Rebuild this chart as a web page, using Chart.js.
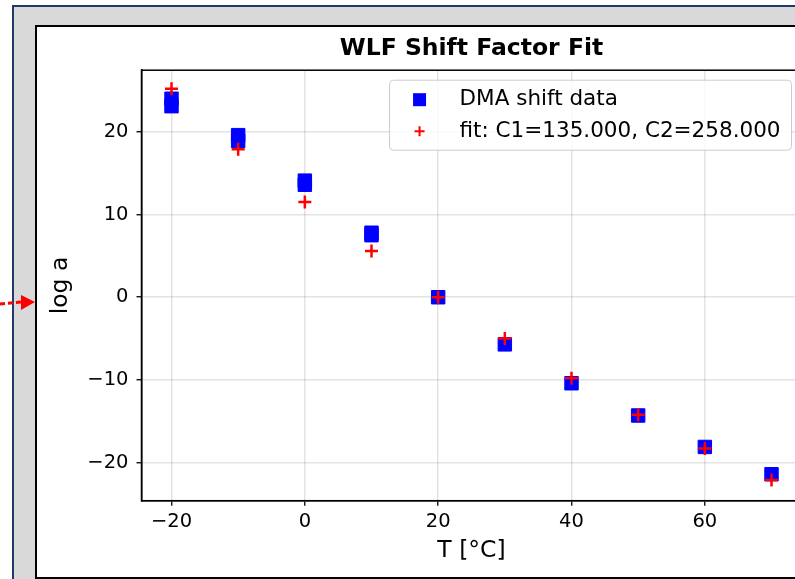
<!DOCTYPE html>
<html>
<head>
<meta charset="utf-8">
<title>WLF Shift Factor Fit</title>
<script src="https://cdn.jsdelivr.net/npm/chart.js"></script>
<style>
  html, body { margin: 0; padding: 0; width: 795px; height: 579px; overflow: hidden; background: #fff; }
  #frame { position: absolute; left: 12px; top: 5px; width: 820px; height: 600px; background: #d9d9d9;
           border-left: 2px solid #203a6b; border-top: 2px solid #203a6b; }
  #panel { position: absolute; left: 35px; top: 25px; width: 900px; height: 550px; background: #fff;
           border: 2px solid #000; overflow: hidden; }
  #wrap { position: absolute; left: 0; top: 0; width: 869px; height: 550px; }
  #arrow { position: absolute; left: 0; top: 290px; z-index: 5; }
</style>
</head>
<body>
<div id="frame"></div>
<div id="panel"><div id="wrap"><canvas id="wlf"></canvas></div></div>
<svg id="arrow" width="40" height="30">
  <line x1="0" y1="14" x2="22" y2="12" stroke="#ff0000" stroke-width="3" stroke-dasharray="5,3"/>
  <polygon points="21,5 35,12 21,20" fill="#ff0000"/>
</svg>
<script>
// measured shift factors (two DMA runs at the low temperatures)
var tempDma = [-20, -20, -10, -10, 0, 0, 10, 10, 20, 30, 40, 50, 60, 70];
var logaDma = [24.0, 23.1, 19.6, 18.9, 14.1, 13.6, 7.8, 7.5, 0.0, -5.7, -10.4, -14.3, -18.1, -21.4];

// WLF curve evaluated at each test temperature
var tempFit = [-20, -10, 0, 10, 20, 30, 40, 50, 60, 70];
var logaFit = [25.2, 17.9, 11.5, 5.6, 0.0, -5.0, -9.8, -14.2, -18.3, -22.1];

var xTicks = [-20, 0, 20, 40, 60];
var yTicks = [-20, -10, 0, 10, 20];

function toPoints(xs, ys) {
    return xs.map(function (x, i) { return { x: x, y: ys[i] }; });
}
function minusSign(v) {
    return v < 0 ? '\u2212' + Math.abs(v) : String(v);
}

Chart.defaults.font.family = '"DejaVu Sans"';
Chart.defaults.color = '#000';

// matplotlib-style legend box in the upper right corner + top/right spines
var boxLegend = {
    id: 'boxLegend',
    afterDatasetsDraw: function (chart) {
        var ctx = chart.ctx, area = chart.chartArea;
        ctx.save();
        ctx.strokeStyle = '#000';
        ctx.lineWidth = 1.5;
        ctx.strokeRect(area.left, area.top, area.right - area.left, area.bottom - area.top);

        ctx.font = '21.5px "DejaVu Sans"';
        var sets = chart.data.datasets;
        var textW = Math.max.apply(null, sets.map(function (d) { return ctx.measureText(d.label).width; }));
        var w = textW + 81, h = 70;
        var x = area.right - 10 - w, y = area.top + 10;
        ctx.fillStyle = 'rgba(255,255,255,0.8)';
        ctx.strokeStyle = '#cccccc';
        ctx.lineWidth = 1;
        ctx.beginPath();
        ctx.roundRect(x, y, w, h, 4);
        ctx.fill();
        ctx.stroke();

        ctx.textBaseline = 'middle';
        sets.forEach(function (d, i) {
            var cy = y + 19.5 + i * 31.5, cx = x + 30;
            if (d.pointStyle === 'rect') {
                ctx.fillStyle = d.backgroundColor;
                ctx.fillRect(cx - 6.5, cy - 6.5, 13, 13);
            } else {
                ctx.strokeStyle = d.borderColor;
                ctx.lineWidth = 2;
                ctx.beginPath();
                ctx.moveTo(cx - 5, cy); ctx.lineTo(cx + 5, cy);
                ctx.moveTo(cx, cy - 5); ctx.lineTo(cx, cy + 5);
                ctx.stroke();
            }
            ctx.fillStyle = '#000';
            ctx.fillText(d.label, x + 70, cy);
        });
        ctx.restore();
    }
};

var ctx = document.getElementById('wlf').getContext('2d');
var myChart = new Chart(ctx, {
    type: 'scatter',
    data: {
        datasets: [{
            label: 'DMA shift data',
            data: toPoints(tempDma, logaDma),
            pointStyle: 'rect',
            pointRadius: 9.5,
            backgroundColor: '#0000ff',
            borderColor: '#0000ff',
            borderWidth: 1,
            order: 2
        }, {
            label: 'fit: C1=135.000, C2=258.000',
            data: toPoints(tempFit, logaFit),
            pointStyle: 'cross',
            pointRadius: 6.5,
            backgroundColor: '#ff0000',
            borderColor: '#ff0000',
            borderWidth: 2.5,
            order: 1
        }]
    },
    options: {
        responsive: true,
        maintainAspectRatio: false,
        animation: false,
        plugins: {
            legend: { display: false },
            tooltip: { enabled: false },
            title: {
                display: true,
                text: 'WLF Shift Factor Fit',
                color: '#000',
                font: { size: 23.5, weight: 'bold', lineHeight: 1.2 },
                padding: { top: 8, bottom: 7 }
            }
        },
        scales: {
            x: {
                type: 'linear',
                min: -24.5,
                max: 74.5,
                afterBuildTicks: function (s) { s.ticks = xTicks.map(function (v) { return { value: v }; }); },
                afterFit: function (s) { s.height = 76.3; },
                ticks: { font: { size: 19.5 }, padding: 5, maxRotation: 0, callback: minusSign },
                grid: { color: 'rgba(0,0,0,0.11)', lineWidth: 1.5, tickColor: '#000', tickLength: 5, tickWidth: 1.3 },
                border: { color: '#000', width: 1.5 },
                title: { display: true, text: 'T [°C]', font: { size: 23.5, lineHeight: 1.2 }, padding: { top: 0, bottom: 12 } }
            },
            y: {
                type: 'linear',
                min: -24.6,
                max: 27.45,
                afterBuildTicks: function (s) { s.ticks = yTicks.map(function (v) { return { value: v }; }); },
                afterFit: function (s) { s.width = 104.5; },
                ticks: { font: { size: 19.5 }, padding: 8, callback: minusSign },
                grid: { color: 'rgba(0,0,0,0.11)', lineWidth: 1.5, tickColor: '#000', tickLength: 5, tickWidth: 1.3 },
                border: { color: '#000', width: 1.5 },
                title: { display: true, text: 'log a', font: { size: 23.5, lineHeight: 1.2 }, padding: { top: 10, bottom: 0 } }
            },
            // empty right-hand margin so the title stays centred over the axes
            yRight: {
                type: 'linear',
                position: 'right',
                min: 0,
                max: 1,
                afterFit: function (s) { s.width = 104.5; },
                ticks: { display: false },
                grid: { display: false, drawTicks: false },
                border: { display: false }
            }
        }
    },
    plugins: [boxLegend]
});
</script>
</body>
</html>
